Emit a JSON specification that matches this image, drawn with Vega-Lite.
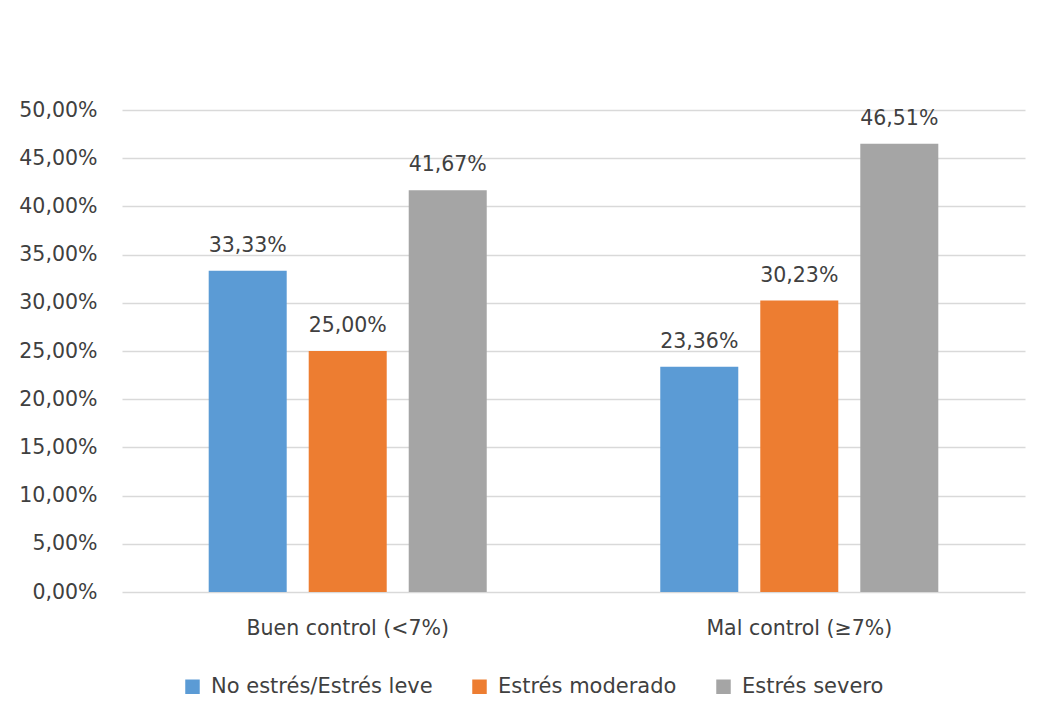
{
  "$schema": "https://vega.github.io/schema/vega-lite/v6.json",
  "autosize": {"type": "none"},
  "width": 903,
  "height": 482,
  "padding": {"left": 122, "top": 110, "right": 12, "bottom": 117},
  "background": "white",
  "data": {
    "values": [
      {"control": "Buen control (<7%)", "estres": "No estrés/Estrés leve", "pct": 0.3333},
      {"control": "Buen control (<7%)", "estres": "Estrés moderado", "pct": 0.25},
      {"control": "Buen control (<7%)", "estres": "Estrés severo", "pct": 0.4167},
      {"control": "Mal control (≥7%)", "estres": "No estrés/Estrés leve", "pct": 0.2336},
      {"control": "Mal control (≥7%)", "estres": "Estrés moderado", "pct": 0.3023},
      {"control": "Mal control (≥7%)", "estres": "Estrés severo", "pct": 0.4651}
    ]
  },
  "encoding": {
    "x": {
      "field": "control",
      "type": "nominal",
      "sort": null,
      "title": null,
      "scale": {"paddingInner": 0.3843, "paddingOuter": 0.192},
      "axis": {"labelAngle": 0, "domain": false, "ticks": false, "labelPadding": 26, "labelLimit": 0}
    },
    "xOffset": {
      "field": "estres",
      "type": "nominal",
      "sort": ["No estrés/Estrés leve", "Estrés moderado", "Estrés severo"],
      "scale": {"paddingInner": 0.22, "paddingOuter": 0}
    },
    "y": {
      "field": "pct",
      "type": "quantitative",
      "title": null,
      "scale": {"domain": [0, 0.5], "nice": false},
      "axis": {
        "format": ".2%",
        "values": [0, 0.05, 0.1, 0.15, 0.2, 0.25, 0.3, 0.35, 0.4, 0.45, 0.5],
        "domain": false,
        "ticks": false,
        "labelPadding": 25,
        "gridColor": "#d9d9d9",
        "gridWidth": 1.3
      }
    }
  },
  "layer": [
    {
      "mark": {"type": "bar"},
      "encoding": {
        "color": {
          "field": "estres",
          "type": "nominal",
          "sort": ["No estrés/Estrés leve", "Estrés moderado", "Estrés severo"],
          "scale": {
            "domain": ["No estrés/Estrés leve", "Estrés moderado", "Estrés severo"],
            "range": ["#5b9bd5", "#ed7d31", "#a5a5a5"]
          },
          "legend": {
            "title": null,
            "orient": "none",
            "direction": "horizontal",
            "legendX": 60,
            "legendY": 566,
            "symbolType": "square",
            "symbolSize": 210,
            "symbolStrokeWidth": 0,
            "labelOffset": 8,
            "labelLimit": 0,
            "labelFontSize": 21,
            "columnPadding": 36,
            "padding": 0
          }
        }
      }
    },
    {
      "mark": {"type": "text", "baseline": "alphabetic", "dy": -19, "color": "#404040"},
      "encoding": {
        "text": {"field": "pct", "type": "quantitative", "format": ".2%"}
      }
    }
  ],
  "config": {
    "locale": {
      "number": {"decimal": ",", "thousands": ".", "grouping": [3], "currency": ["", " €"]}
    },
    "font": "DejaVu Sans",
    "view": {"stroke": null},
    "axis": {"labelFont": "DejaVu Sans", "labelFontSize": 20.5, "labelColor": "#404040"},
    "legend": {"labelFont": "DejaVu Sans", "labelFontSize": 20.5, "labelColor": "#404040"},
    "text": {"font": "DejaVu Sans", "fontSize": 20.5}
  }
}
